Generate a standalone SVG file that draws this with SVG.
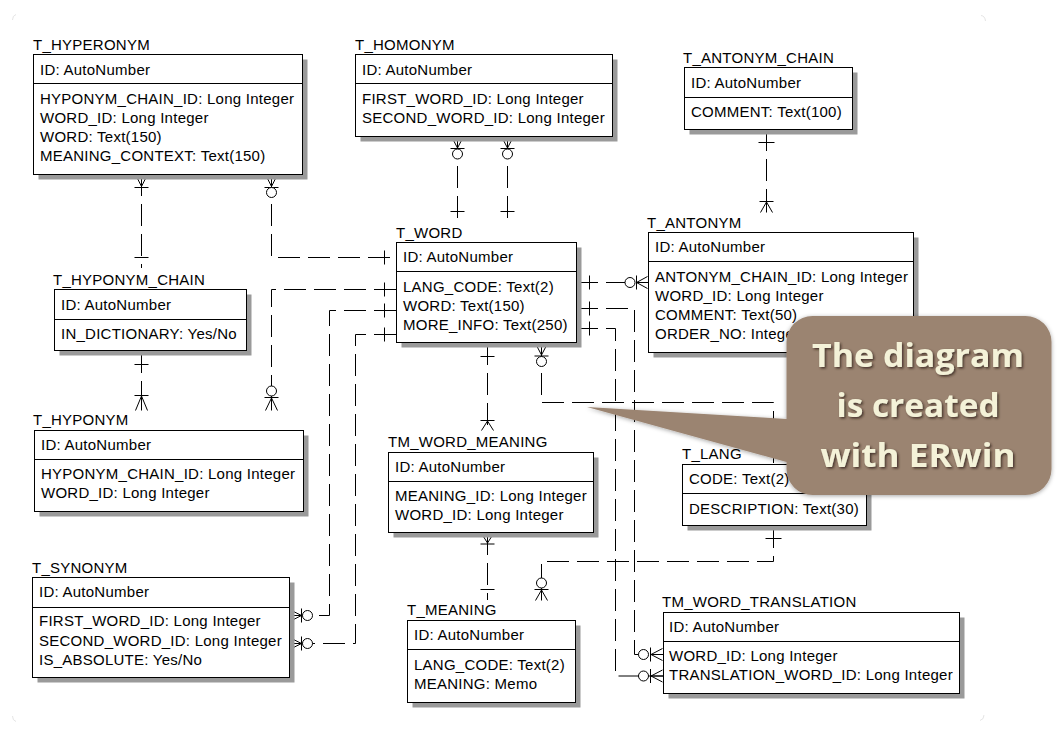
<svg xmlns="http://www.w3.org/2000/svg" width="1063" height="732" viewBox="0 0 1063 732">
<defs>
<style>
.bg{fill:#fff}
.sh{fill:#9a9a9a}
.box{fill:#fff;stroke:#000;stroke-width:1}
.dv{stroke:#000;stroke-width:1}
.t{font-family:"Liberation Sans",Arial,sans-serif;font-size:15px;letter-spacing:0.25px;fill:#000}
.ln{fill:none;stroke:#000;stroke-width:1;stroke-dasharray:22 8}
.sym{fill:none;stroke:#000;stroke-width:1}
.cir{fill:#fff;stroke:#000;stroke-width:1}
.corner{fill:none;stroke:#d8d8d8;stroke-width:0.7}
.call{fill:#9b8471}
.ct{font-family:"Open Sans","Noto Sans",sans-serif;font-weight:bold;font-size:32px;fill:#f4f2d8}
</style>
<filter id="csh" x="-10%" y="-10%" width="120%" height="120%">
<feDropShadow dx="0" dy="1" stdDeviation="2" flood-color="#000" flood-opacity="0.35"/>
</filter>
<filter id="tsh" x="-10%" y="-20%" width="120%" height="140%">
<feDropShadow dx="1.5" dy="1.5" stdDeviation="1" flood-color="#2e2418" flood-opacity="0.8"/>
</filter>
</defs>
<rect class="bg" width="1063" height="732"/>
<g id="frame">
<path class="corner" d="M12.5,20 Q12.5,15.5 16,14.5"/>
<path class="corner" d="M981,15.5 Q985,16 985.5,21"/>
<path class="corner" d="M12.5,716 Q12.5,720.5 16,721.5"/>
<path class="corner" d="M984,715 Q984,719.5 980,720.5"/>
</g>

<g id="connectors">
<path class="ln" d="M141.5,174 V268"/>
<path class="ln" d="M271.5,174 V257.5 H396"/>
<path class="ln" d="M396,289.5 H271.5 V410"/>
<path class="ln" d="M141.5,351 V410"/>
<path class="ln" d="M396,310.5 H329.5 V615.5 H289"/>
<path class="ln" d="M396,334.5 H355.5 V643.5 H289"/>
<path class="ln" d="M457.5,136 V222"/>
<path class="ln" d="M507.5,136 V222"/>
<path class="ln" d="M766.5,129 V212.5"/>
<path class="ln" d="M576,282.5 H648"/>
<path class="ln" d="M576,308.5 H634.5 V654.5 H663"/>
<path class="ln" d="M576,328.5 H615.5 V676 H663"/>
<path class="ln" d="M487.5,343 V430.5"/>
<path class="ln" d="M541.5,343 V402.5 H773.5 V464.5"/>
<path class="ln" d="M487.5,533 V600"/>
<path class="ln" d="M773.5,526 V561.5 H541.5 V600"/>
<g id="symbols">
<path class="sym" d="M135.5,174.5 L141.5,186.5 L147.5,174.5 M141.5,174 V188 M134.5,187.5 H148.5 M134.5,257.5 H148.5"/>
<path class="sym" d="M265.5,174.5 L271.5,186.5 L277.5,174.5 M271.5,174 V188 M264.5,187.5 H278.5 M384.5,250.5 V264.5"/>
<circle class="cir" cx="271.5" cy="192.5" r="5"/>
<path class="sym" d="M384.5,282.5 V296.5 M264.5,397.5 H278.5 M265.5,410.5 L271.5,398 L277.5,410.5 M271.5,396 V410.5"/>
<circle class="cir" cx="271.5" cy="391" r="5"/>
<path class="sym" d="M134.5,364.5 H148.5 M134.5,395.5 H148.5 M135.5,410.5 L141.5,396 L147.5,410.5 M141.5,390 V410.5"/>
<path class="sym" d="M384.5,303.5 V317.5 M289.5,609.5 L301.5,615.5 L289.5,621.5 M289,615.5 H302 M301.5,608.5 V622.5"/>
<circle class="cir" cx="307.5" cy="615.5" r="5"/>
<path class="sym" d="M384.5,327.5 V341.5 M289.5,637.5 L301.5,643.5 L289.5,649.5 M289,643.5 H302 M301.5,636.5 V650.5"/>
<circle class="cir" cx="307.5" cy="643.5" r="5"/>
<path class="sym" d="M451.5,136.5 L457.5,148 L463.5,136.5 M457.5,136 V149 M450.5,148.5 H464.5 M450.5,211.5 H464.5"/>
<circle class="cir" cx="457.5" cy="154" r="5"/>
<path class="sym" d="M501.5,136.5 L507.5,148 L513.5,136.5 M507.5,136 V149 M500.5,148.5 H514.5 M500.5,211.5 H514.5"/>
<circle class="cir" cx="507.5" cy="154" r="5"/>
<path class="sym" d="M758.5,142.5 H774.5 M759.5,201.5 H773.5 M760.5,212.5 L766.5,202 L772.5,212.5 M766.5,195 V212.5"/>
<path class="sym" d="M589.5,275.5 V289.5 M636.5,275.5 V289.5 M647.5,276.5 L636.5,282.5 L647.5,288.5 M636,282.5 H648"/>
<circle class="cir" cx="630" cy="282.5" r="5"/>
<path class="sym" d="M589.5,301.5 V315.5 M650.5,647.5 V661.5 M662.5,648.5 L651,654.5 L662.5,660.5 M650,654.5 H663"/>
<circle class="cir" cx="643.5" cy="654.5" r="5"/>
<path class="sym" d="M589.5,321.5 V335.5 M650.5,669 V683 M662.5,670 L651,676 L662.5,682 M650,676 H663"/>
<circle class="cir" cx="643.5" cy="676" r="5"/>
<path class="sym" d="M480.5,356.5 H494.5 M480.5,420.5 H494.5 M481.5,430.5 L487.5,421 L493.5,430.5"/>
<path class="sym" d="M535.5,343.5 L541.5,355 L547.5,343.5 M541.5,343 V356 M534.5,356 H548.5"/>
<circle class="cir" cx="541.5" cy="361.5" r="5"/>
<path class="sym" d="M481.5,533.5 L487.5,543 L493.5,533.5 M487.5,533 V545 M480.5,544 H494.5 M480.5,589.5 H494.5"/>
<path class="sym" d="M765.5,538.5 H781.5 M534.5,589.5 H548.5 M535.5,600.5 L541.5,590 L547.5,600.5 M541.5,588 V600.5"/>
<circle class="cir" cx="541.5" cy="583" r="5"/>
</g>
</g>

<g id="T_HYPERONYM">
<rect class="sh" x="38.5" y="59.5" width="269" height="120"/>
<rect class="box" x="33.5" y="54.5" width="269" height="120"/>
<line class="dv" x1="33.5" y1="83.5" x2="302.5" y2="83.5"/>
<text class="t" x="33" y="50">T_HYPERONYM</text>
<text class="t" x="40" y="75">ID: AutoNumber</text>
<text class="t" x="40" y="104">HYPONYM_CHAIN_ID: Long Integer</text>
<text class="t" x="40" y="123">WORD_ID: Long Integer</text>
<text class="t" x="40" y="142">WORD: Text(150)</text>
<text class="t" x="40" y="161">MEANING_CONTEXT: Text(150)</text>
</g>

<g id="T_HOMONYM">
<rect class="sh" x="360.5" y="59.5" width="257" height="82"/>
<rect class="box" x="355.5" y="54.5" width="257" height="82"/>
<line class="dv" x1="355.5" y1="83.5" x2="612.5" y2="83.5"/>
<text class="t" x="355" y="50">T_HOMONYM</text>
<text class="t" x="362" y="75">ID: AutoNumber</text>
<text class="t" x="362" y="104">FIRST_WORD_ID: Long Integer</text>
<text class="t" x="362" y="123">SECOND_WORD_ID: Long Integer</text>
</g>

<g id="T_ANTONYM_CHAIN">
<rect class="sh" x="689.5" y="72.5" width="168" height="62"/>
<rect class="box" x="684.5" y="67.5" width="168" height="62"/>
<line class="dv" x1="684.5" y1="97.5" x2="852.5" y2="97.5"/>
<text class="t" x="683" y="63">T_ANTONYM_CHAIN</text>
<text class="t" x="691" y="88">ID: AutoNumber</text>
<text class="t" x="691" y="117">COMMENT: Text(100)</text>
</g>

<g id="T_HYPONYM_CHAIN">
<rect class="sh" x="59.5" y="294.5" width="192" height="61"/>
<rect class="box" x="54.5" y="289.5" width="192" height="61"/>
<line class="dv" x1="54.5" y1="319.5" x2="246.5" y2="319.5"/>
<text class="t" x="53" y="285">T_HYPONYM_CHAIN</text>
<text class="t" x="61" y="310">ID: AutoNumber</text>
<text class="t" x="61" y="339">IN_DICTIONARY: Yes/No</text>
</g>

<g id="T_WORD">
<rect class="sh" x="401.5" y="247.5" width="180" height="100"/>
<rect class="box" x="396.5" y="242.5" width="180" height="100"/>
<line class="dv" x1="396.5" y1="271.5" x2="576.5" y2="271.5"/>
<text class="t" x="396" y="238">T_WORD</text>
<text class="t" x="403" y="262">ID: AutoNumber</text>
<text class="t" x="403" y="291.5">LANG_CODE: Text(2)</text>
<text class="t" x="403" y="310.5">WORD: Text(150)</text>
<text class="t" x="403" y="330">MORE_INFO: Text(250)</text>
</g>

<g id="T_ANTONYM">
<rect class="sh" x="653.5" y="237.5" width="265" height="120"/>
<rect class="box" x="648.5" y="232.5" width="265" height="120"/>
<line class="dv" x1="648.5" y1="261.5" x2="913.5" y2="261.5"/>
<text class="t" x="647" y="228">T_ANTONYM</text>
<text class="t" x="655" y="252">ID: AutoNumber</text>
<text class="t" x="655" y="281.5">ANTONYM_CHAIN_ID: Long Integer</text>
<text class="t" x="655" y="300.5">WORD_ID: Long Integer</text>
<text class="t" x="655" y="320">COMMENT: Text(50)</text>
<text class="t" x="655" y="339">ORDER_NO: Integer</text>
</g>

<g id="T_HYPONYM">
<rect class="sh" x="39.5" y="435.5" width="269" height="81"/>
<rect class="box" x="34.5" y="430.5" width="269" height="81"/>
<line class="dv" x1="34.5" y1="459.5" x2="303.5" y2="459.5"/>
<text class="t" x="33" y="425">T_HYPONYM</text>
<text class="t" x="41" y="450">ID: AutoNumber</text>
<text class="t" x="41" y="479">HYPONYM_CHAIN_ID: Long Integer</text>
<text class="t" x="41" y="498">WORD_ID: Long Integer</text>
</g>

<g id="TM_WORD_MEANING">
<rect class="sh" x="393.5" y="457.5" width="205" height="80"/>
<rect class="box" x="388.5" y="452.5" width="205" height="80"/>
<line class="dv" x1="388.5" y1="481.5" x2="593.5" y2="481.5"/>
<text class="t" x="388" y="447">TM_WORD_MEANING</text>
<text class="t" x="395" y="472">ID: AutoNumber</text>
<text class="t" x="395" y="501">MEANING_ID: Long Integer</text>
<text class="t" x="395" y="520">WORD_ID: Long Integer</text>
</g>

<g id="T_LANG">
<rect class="sh" x="687.5" y="469.5" width="184" height="61"/>
<rect class="box" x="682.5" y="464.5" width="184" height="61"/>
<line class="dv" x1="682.5" y1="493.5" x2="866.5" y2="493.5"/>
<text class="t" x="682" y="459">T_LANG</text>
<text class="t" x="689" y="484">CODE: Text(2)</text>
<text class="t" x="689" y="513.5">DESCRIPTION: Text(30)</text>
</g>

<g id="T_SYNONYM">
<rect class="sh" x="37.5" y="582.5" width="257" height="100"/>
<rect class="box" x="32.5" y="577.5" width="257" height="100"/>
<line class="dv" x1="32.5" y1="607.5" x2="289.5" y2="607.5"/>
<text class="t" x="32" y="573">T_SYNONYM</text>
<text class="t" x="39" y="597">ID: AutoNumber</text>
<text class="t" x="39" y="626">FIRST_WORD_ID: Long Integer</text>
<text class="t" x="39" y="645.5">SECOND_WORD_ID: Long Integer</text>
<text class="t" x="39" y="665">IS_ABSOLUTE: Yes/No</text>
</g>

<g id="T_MEANING">
<rect class="sh" x="412.5" y="625.5" width="168" height="82"/>
<rect class="box" x="407.5" y="620.5" width="168" height="82"/>
<line class="dv" x1="407.5" y1="649.5" x2="575.5" y2="649.5"/>
<text class="t" x="407" y="615">T_MEANING</text>
<text class="t" x="414" y="640">ID: AutoNumber</text>
<text class="t" x="414" y="669.5">LANG_CODE: Text(2)</text>
<text class="t" x="414" y="688.5">MEANING: Memo</text>
</g>

<g id="TM_WORD_TRANSLATION">
<rect class="sh" x="668.5" y="617.5" width="296" height="81"/>
<rect class="box" x="663.5" y="612.5" width="296" height="81"/>
<line class="dv" x1="663.5" y1="641.5" x2="959.5" y2="641.5"/>
<text class="t" x="662" y="607">TM_WORD_TRANSLATION</text>
<text class="t" x="669" y="632">ID: AutoNumber</text>
<text class="t" x="669" y="661">WORD_ID: Long Integer</text>
<text class="t" x="669" y="680">TRANSLATION_WORD_ID: Long Integer</text>
</g>

<g id="callout">
<path class="call" filter="url(#csh)" d="M812.5,316 H1025.5 A26,26 0 0 1 1051.5,342 V469 A26,26 0 0 1 1025.5,495 H812.5 A26,26 0 0 1 786.5,469 V462 L587,407 L786.5,419 V342 A26,26 0 0 1 812.5,316 Z"/>
<g filter="url(#tsh)">
<text class="ct" x="918" y="367" text-anchor="middle" textLength="212" lengthAdjust="spacingAndGlyphs">The diagram</text>
<text class="ct" x="918" y="417" text-anchor="middle" textLength="163" lengthAdjust="spacingAndGlyphs">is created</text>
<text class="ct" x="918" y="467" text-anchor="middle" textLength="195" lengthAdjust="spacingAndGlyphs">with ERwin</text>
</g>
</g>
</svg>
